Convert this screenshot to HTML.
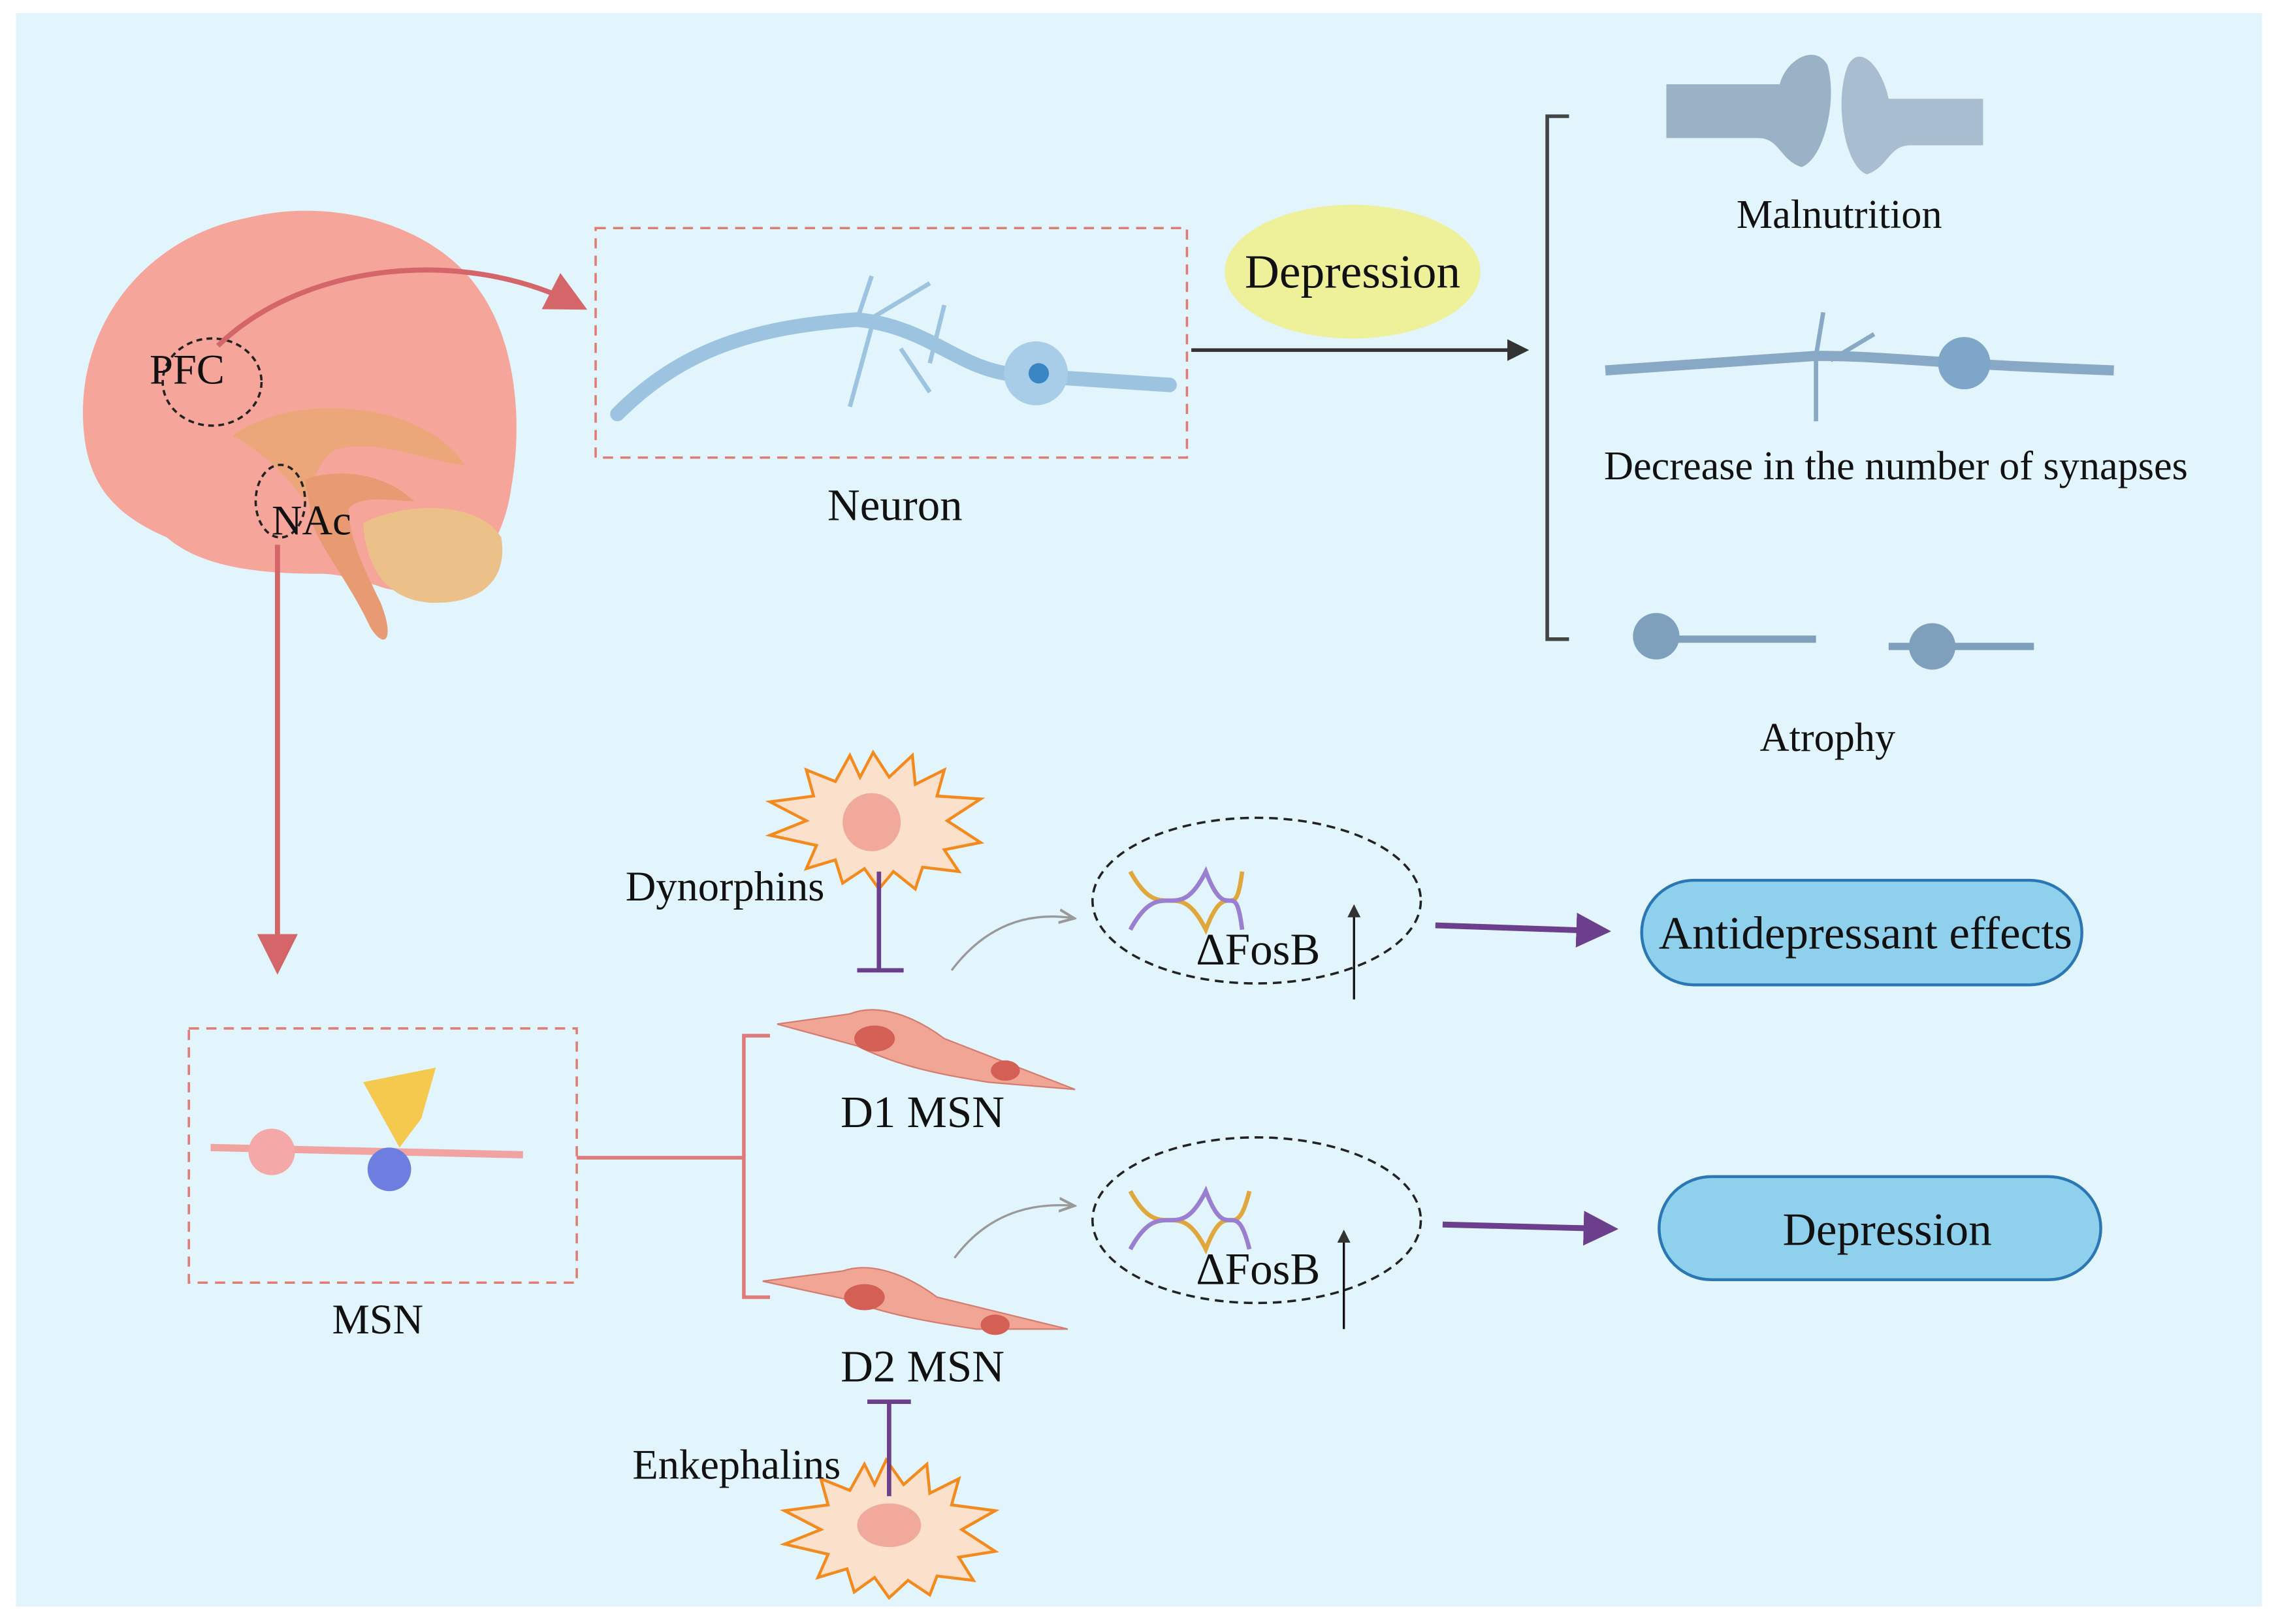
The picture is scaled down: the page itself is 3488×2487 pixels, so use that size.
<!DOCTYPE html>
<html><head><meta charset="utf-8"><style>
html,body{margin:0;padding:0;background:#fff;}
svg{display:block;}
text{font-family:"Liberation Serif",serif;fill:#111;}
</style></head><body>
<svg width="3488" height="2487" viewBox="0 0 1568 1118" xmlns="http://www.w3.org/2000/svg">
<defs>
<marker id="ar" markerWidth="8" markerHeight="8" refX="6" refY="4" orient="auto" markerUnits="strokeWidth"><path d="M0,0 L8,4 L0,8 Z" fill="#d4666a"/></marker>
<marker id="ak" markerWidth="6" markerHeight="6" refX="5" refY="3" orient="auto" markerUnits="strokeWidth"><path d="M0,0 L6,3 L0,6 Z" fill="#333"/></marker>
<marker id="ap" markerWidth="6" markerHeight="6" refX="5" refY="3" orient="auto" markerUnits="strokeWidth"><path d="M0,0 L6,3 L0,6 Z" fill="#6b3f8c"/></marker>
<marker id="ag" markerWidth="8" markerHeight="8" refX="6" refY="4" orient="auto" markerUnits="strokeWidth"><path d="M0,1 L7,4 L0,7" fill="none" stroke="#999" stroke-width="1.2"/></marker>
</defs>
<rect x="11" y="9" width="1546" height="1097" fill="#e2f4fc"/>

<!-- brain -->
<path d="M58,300 C50,230 95,165 170,150 C230,135 300,155 330,200 C355,235 360,290 352,335 C348,365 335,385 320,400 L290,410 L265,405 C250,400 235,395 220,395 C185,395 140,392 115,370 C80,355 62,335 58,300 Z" fill="#f5a59a"/>
<path d="M160,300 C200,270 290,275 320,320 C300,320 260,300 230,310 C215,320 215,340 210,345 C200,330 180,310 160,300Z" fill="#eba67a"/>
<path d="M210,330 C240,320 270,330 285,345 C270,345 250,340 240,350 C240,370 250,390 262,415 C272,440 265,448 255,432 C240,400 222,380 215,360Z" fill="#e89a72"/>
<path d="M250,360 C280,345 330,345 345,370 C350,400 330,415 300,415 C270,415 252,395 250,360Z" fill="#ecc089"/>
<ellipse cx="146" cy="263" rx="34" ry="30" fill="none" stroke="#222" stroke-width="1.6" stroke-dasharray="4,3"/>
<ellipse cx="193" cy="345" rx="17" ry="25" fill="none" stroke="#222" stroke-width="1.6" stroke-dasharray="4,3"/>
<text x="103" y="264" font-size="29">PFC</text>
<text x="187" y="368" font-size="29">NAc</text>
<path d="M150,238 C210,180 320,170 398,210" fill="none" stroke="#d4666a" stroke-width="3.5" marker-end="url(#ar)"/>
<line x1="191" y1="375" x2="191" y2="664" stroke="#d4666a" stroke-width="3.5" marker-end="url(#ar)"/>

<!-- neuron box -->
<rect x="410" y="157" width="407" height="158" fill="none" stroke="#e17c72" stroke-width="1.6" stroke-dasharray="7,5"/>
<path d="M425,285 C470,240 520,225 590,220 C640,225 660,255 700,258 L805,265" fill="none" stroke="#9cc3e0" stroke-width="10" stroke-linecap="round"/>
<path d="M590,220 L600,190 M595,222 L640,195 M600,225 L585,280 M620,240 L640,270 M640,250 L650,210" stroke="#9cc3e0" stroke-width="3" fill="none"/>
<circle cx="713" cy="257" r="22" fill="#a8cde8"/><circle cx="715" cy="257" r="7" fill="#3a86c4"/>
<text x="616" y="358" font-size="31" text-anchor="middle">Neuron</text>

<ellipse cx="931" cy="187" rx="88" ry="46" fill="#eef09a"/>
<text x="931" y="198" font-size="33" text-anchor="middle">Depression</text>
<line x1="820" y1="241" x2="1050" y2="241" stroke="#333" stroke-width="2.5" marker-end="url(#ak)"/>
<path d="M1080,80 L1065,80 L1065,440 L1080,440" fill="none" stroke="#444" stroke-width="2.5"/>

<!-- synapse -->
<path d="M1147,58 L1225,58 C1230,40 1250,30 1258,45 C1265,70 1255,110 1240,115 C1225,110 1225,95 1210,95 L1147,95Z" fill="#9ab2c6"/>
<path d="M1365,68 L1300,68 C1295,45 1280,30 1272,45 C1262,70 1270,115 1285,120 C1300,115 1300,100 1315,100 L1365,100Z" fill="#a9bdd0"/>
<text x="1266" y="157" font-size="28" text-anchor="middle">Malnutrition</text>
<path d="M1105,255 L1250,245 C1300,245 1320,250 1455,255" fill="none" stroke="#88a9c6" stroke-width="7"/>
<path d="M1250,245 L1255,215 M1250,245 L1250,290 M1260,248 L1290,230" stroke="#88a9c6" stroke-width="3"/>
<circle cx="1352" cy="250" r="18" fill="#7ea6c8"/>
<text x="1305" y="330" font-size="28" text-anchor="middle">Decrease in the number of synapses</text>
<path d="M1140,440 L1250,440 M1300,445 L1400,445" stroke="#7ea0bd" stroke-width="5"/>
<circle cx="1140" cy="438" r="16" fill="#7ea0bd"/><circle cx="1330" cy="445" r="16" fill="#7ea0bd"/>
<text x="1258" y="517" font-size="28" text-anchor="middle">Atrophy</text>

<!-- MSN box -->
<rect x="130" y="708" width="267" height="175" fill="none" stroke="#e17c72" stroke-width="1.6" stroke-dasharray="7,5"/>
<path d="M145,790 L360,795" stroke="#f0a3a0" stroke-width="5"/>
<circle cx="187" cy="793" r="16" fill="#f4a8a8"/>
<path d="M250,745 L300,735 L290,770 L275,790 Z" fill="#f5c94e"/>
<circle cx="268" cy="805" r="15" fill="#6d7ee0"/>
<text x="260" y="918" font-size="29" text-anchor="middle">MSN</text>
<line x1="397" y1="797" x2="512" y2="797" stroke="#e07b7b" stroke-width="2.5"/>
<path d="M530,713 L512,713 L512,893 L530,893" fill="none" stroke="#e07b7b" stroke-width="2.5"/>

<!-- D1/D2 cells -->
<path d="M535,705 L585,698 C605,690 630,700 650,715 L740,750 L680,745 C650,740 620,735 590,720 Z" fill="#f0a595" stroke="#d47c70"/>
<ellipse cx="602" cy="715" rx="14" ry="9" fill="#d35f55"/><ellipse cx="692" cy="737" rx="10" ry="7" fill="#d35f55"/>
<text x="635" y="776" font-size="31" text-anchor="middle">D1 MSN</text>
<path d="M525,882 L580,875 C600,868 625,878 645,893 L735,915 L672,915 C640,910 610,905 585,895 Z" fill="#f0a595" stroke="#d47c70"/>
<ellipse cx="595" cy="893" rx="14" ry="9" fill="#d35f55"/><ellipse cx="685" cy="912" rx="10" ry="7" fill="#d35f55"/>
<text x="635" y="951" font-size="31" text-anchor="middle">D2 MSN</text>

<!-- starbursts -->
<polygon points="601,518 612,535 628,520 630,540 650,530 645,548 675,550 652,565 675,580 650,585 660,600 635,597 630,612 615,600 605,612 595,598 580,608 575,592 555,598 562,582 530,575 555,565 530,552 560,548 555,530 575,538 585,520 592,535" fill="#fbe0cc" stroke="#f28a1e" stroke-width="2"/>
<circle cx="600" cy="566" r="20" fill="#f0a99a"/>
<text x="499" y="620" font-size="29" text-anchor="middle">Dynorphins</text>
<line x1="605" y1="600" x2="605" y2="668" stroke="#6b3f8c" stroke-width="3"/>
<line x1="590" y1="668" x2="622" y2="668" stroke="#6b3f8c" stroke-width="3"/>
<polygon points="610,1005 622,1022 638,1008 640,1028 660,1018 655,1036 685,1040 662,1053 685,1068 660,1072 670,1088 645,1085 640,1098 625,1088 612,1100 602,1086 588,1096 583,1080 563,1086 570,1070 540,1063 565,1053 540,1040 570,1036 565,1018 585,1026 595,1008 602,1022" fill="#fbe0cc" stroke="#f28a1e" stroke-width="2"/>
<ellipse cx="612" cy="1050" rx="22" ry="15" fill="#f0a99a"/>
<text x="507" y="1018" font-size="29" text-anchor="middle">Enkephalins</text>
<line x1="612" y1="965" x2="612" y2="1030" stroke="#6b3f8c" stroke-width="3"/>
<line x1="597" y1="965" x2="627" y2="965" stroke="#6b3f8c" stroke-width="3"/>

<!-- FosB -->
<path d="M655,668 C680,635 710,628 738,632" fill="none" stroke="#999" stroke-width="1.5" marker-end="url(#ag)"/>
<path d="M657,866 C680,835 710,828 738,830" fill="none" stroke="#999" stroke-width="1.5" marker-end="url(#ag)"/>
<ellipse cx="865" cy="620" rx="113" ry="57" fill="none" stroke="#222" stroke-width="1.6" stroke-dasharray="6,4"/>
<ellipse cx="865" cy="840" rx="113" ry="57" fill="none" stroke="#222" stroke-width="1.6" stroke-dasharray="6,4"/>
<g fill="none" stroke-width="3">
<path d="M778,600 C800,640 810,600 830,640 C845,600 850,640 855,600" stroke="#e0a83c"/>
<path d="M778,640 C800,600 810,640 830,600 C845,640 850,600 855,640" stroke="#9a7fd0"/>
<path d="M778,820 C800,860 810,820 830,860 C845,820 850,860 860,820" stroke="#e0a83c"/>
<path d="M778,860 C800,820 810,860 830,820 C845,860 850,820 860,860" stroke="#9a7fd0"/>
</g>
<text x="866" y="664" font-size="31" text-anchor="middle">ΔFosB</text>
<text x="866" y="884" font-size="31" text-anchor="middle">ΔFosB</text>
<line x1="932" y1="688" x2="932" y2="624" stroke="#111" stroke-width="1.5" marker-end="url(#ak)"/>
<line x1="925" y1="915" x2="925" y2="848" stroke="#111" stroke-width="1.5" marker-end="url(#ak)"/>
<line x1="988" y1="637" x2="1105" y2="641" stroke="#6b3f8c" stroke-width="4" marker-end="url(#ap)"/>
<line x1="993" y1="843" x2="1110" y2="846" stroke="#6b3f8c" stroke-width="4" marker-end="url(#ap)"/>

<rect x="1130" y="606" width="303" height="72" rx="36" fill="#8fd0ec" stroke="#2a77b4" stroke-width="2"/>
<text x="1284" y="653" font-size="32" text-anchor="middle">Antidepressant effects</text>
<rect x="1142" y="810" width="304" height="71" rx="36" fill="#8fd0ec" stroke="#2a77b4" stroke-width="2"/>
<text x="1299" y="857" font-size="32" text-anchor="middle">Depression</text>
</svg>
</body></html>
